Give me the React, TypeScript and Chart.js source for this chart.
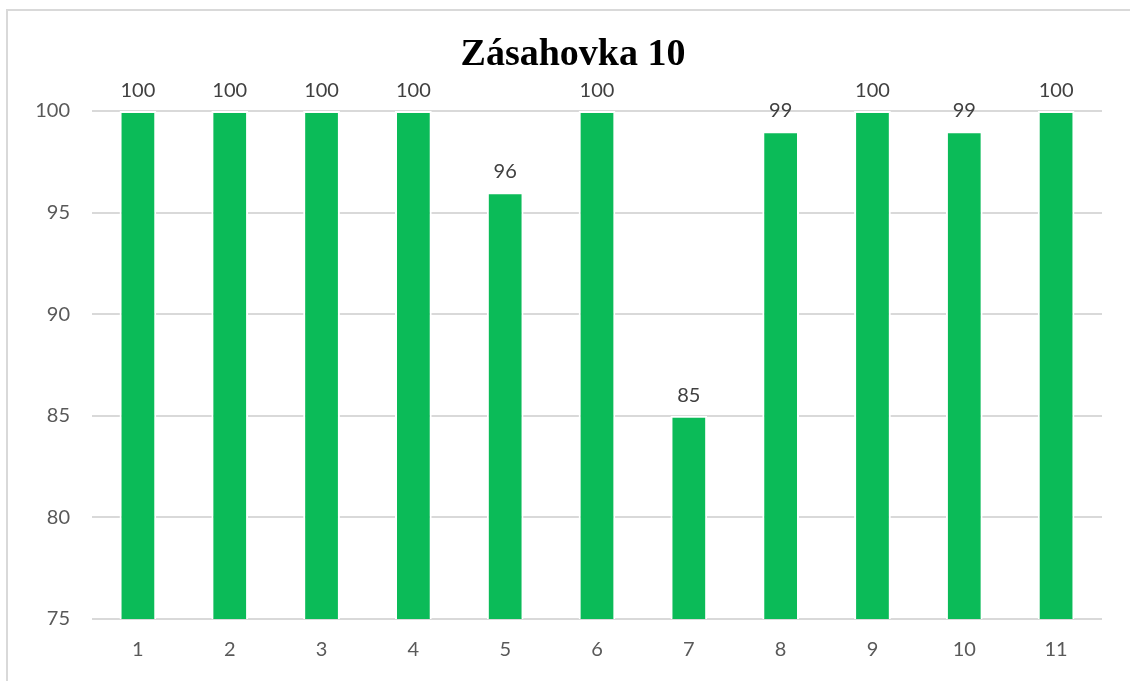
import React, { useEffect, useRef } from "react";
import { Chart, registerables } from "chart.js";

Chart.register(...registerables);

const TITLE = "Zásahovka 10";
const CATEGORIES = ["1", "2", "3", "4", "5", "6", "7", "8", "9", "10", "11"];
const VALUES = [100, 100, 100, 100, 96, 100, 85, 99, 100, 99, 100];
const Y_MIN = 75;
const Y_MAX = 100;
const Y_STEP = 5;

const BAR_COLOR = "#0BBB58";
const LABEL_FONT = "Lato";

const dataLabelPlugin = {
  id: "dataLabels",
  afterDatasetsDraw(chart: any) {
    const ctx = chart.ctx;
    const meta = chart.getDatasetMeta(0);
    ctx.save();
    ctx.font = `20px ${LABEL_FONT}`;
    ctx.fillStyle = "#404040";
    ctx.textAlign = "center";
    ctx.textBaseline = "alphabetic";
    meta.data.forEach((bar: any, i: number) => {
      const v = chart.data.datasets[0].data[i];
      ctx.fillText(String(v), bar.x, bar.y - 14);
    });
    ctx.restore();
  },
};

export default function App() {
  const ref = useRef<HTMLCanvasElement | null>(null);

  useEffect(() => {
    if (!ref.current) return;
    const chart = new Chart(ref.current, {
      type: "bar",
      data: {
        labels: CATEGORIES,
        datasets: [
          {
            data: VALUES,
            backgroundColor: BAR_COLOR,
            borderColor: "#ffffff",
            borderWidth: 2,
            barPercentage: 0.4,
            categoryPercentage: 1,
          },
        ],
      },
      options: {
        animation: false,
        responsive: false,
        maintainAspectRatio: false,
        layout: { padding: { left: 0, right: 28, top: 111, bottom: 0 } },
        plugins: {
          legend: { display: false },
          tooltip: { enabled: false },
          title: { display: false },
        },
        scales: {
          x: {
            grid: { display: false, drawTicks: false },
            border: { display: false },
            ticks: {
              color: "#595959",
              font: { family: LABEL_FONT, size: 20 },
              padding: 19,
            },
          },
          y: {
            min: Y_MIN,
            max: Y_MAX,
            grid: { color: "#d9d9d9", lineWidth: 2, drawTicks: false },
            border: { display: false },
            ticks: {
              stepSize: Y_STEP,
              color: "#595959",
              font: { family: LABEL_FONT, size: 20 },
              padding: 22,
            },
            afterFit: (scale: any) => {
              scale.width = 92;
            },
          },
        },
      },
      plugins: [dataLabelPlugin],
    });
    return () => chart.destroy();
  }, []);

  return (
    <div
      style={{
        position: "fixed",
        left: 0,
        top: 0,
        width: 1130,
        height: 681,
        overflow: "hidden",
        background: "#ffffff",
      }}
    >
      <div
        style={{
          position: "absolute",
          left: 6,
          top: 9,
          width: 1300,
          height: 800,
          border: "2px solid #d9d9d9",
          boxSizing: "border-box",
        }}
      />
      <canvas
        ref={ref}
        width={1130}
        height={681}
        style={{ position: "absolute", left: 0, top: 0, width: 1130, height: 681 }}
      />
      <div
        style={{
          position: "absolute",
          left: 0,
          top: 33,
          width: 1146,
          textAlign: "center",
          fontFamily: "'Liberation Serif', 'Times New Roman', serif",
          fontWeight: "bold",
          fontSize: 38,
          lineHeight: "38px",
          color: "#000000",
          whiteSpace: "nowrap",
        }}
      >
        {TITLE}
      </div>
    </div>
  );
}
